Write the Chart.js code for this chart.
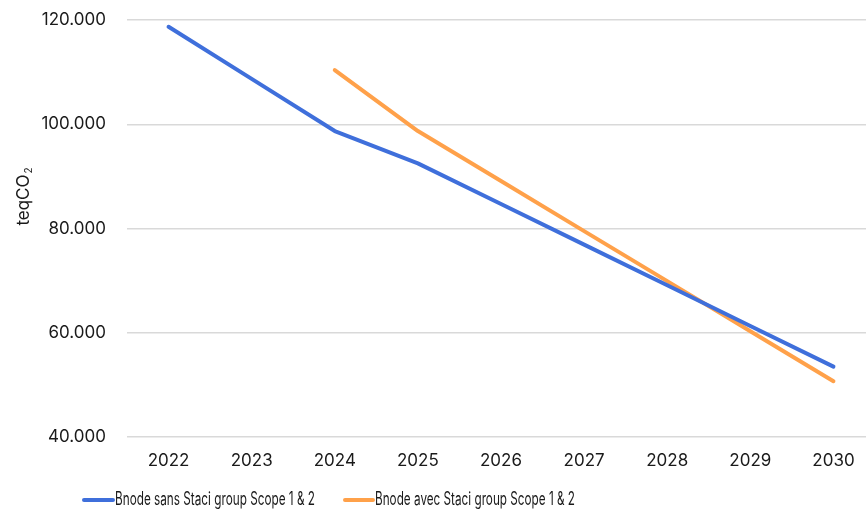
<!DOCTYPE html>
<html>
<head>
<meta charset="utf-8">
<script src="https://cdn.jsdelivr.net/npm/chart.js@4"></script>
<style>
  html, body { margin: 0; padding: 0; background: #fff; overflow: hidden; }
  #wrap { width: 876px; height: 509px; }
</style>
</head>
<body>
<div id="wrap"><canvas id="chart" width="876" height="509"></canvas></div>
<script>
// Emission trajectory, tonnes CO2 equivalent per year
const years = ['2022', '2023', '2024', '2025', '2026', '2027', '2028', '2029', '2030'];
const sansStaci = [118700, 108700, 98700, 92500, 84700, 76900, 69100, 61300, 53500];
const avecStaci = [null, null, 110400, 98700, 89100, 79500, 69900, 60300, 50700];
const seriesNames = ['Bnode sans Staci group Scope 1 & 2', 'Bnode avec Staci group Scope 1 & 2'];
const yTicks = [40000, 60000, 80000, 100000, 120000];
const yTitle = 'teqCO';
const yTitleSub = '2';

const FONT = 'Inter, "DejaVu Sans", sans-serif';
const TEXT = '#1a1a1a';
const BLUE = '#3f6fdb';
const ORANGE = '#ffa14a';

function fmt(v) {
  return String(v).replace(/\B(?=(\d{3})+(?!\d))/g, '.');
}

// Vertical axis title with a small subscript
const axisTitle = {
  id: 'axisTitle',
  afterDraw(chart) {
    const ctx = chart.ctx;
    ctx.save();
    ctx.translate(29, 197);
    ctx.rotate(-Math.PI / 2);
    ctx.fillStyle = TEXT;
    ctx.textBaseline = 'alphabetic';
    ctx.font = '17px ' + FONT;
    const w = ctx.measureText(yTitle).width;
    ctx.font = '10px ' + FONT;
    const ws = ctx.measureText(yTitleSub).width;
    const x0 = -(w + ws) / 2;
    ctx.font = '17px ' + FONT;
    ctx.fillText(yTitle, x0, 0);
    ctx.font = '10px ' + FONT;
    ctx.fillText(yTitleSub, x0 + w + 1, 3);
    ctx.restore();
  }
};

// Legend drawn below the plot with condensed labels
const bottomLegend = {
  id: 'bottomLegend',
  afterDraw(chart) {
    const ctx = chart.ctx;
    const items = [
      { x: 84, textX: 115, color: BLUE, label: chart.data.datasets[0].label },
      { x: 345, textX: 375, color: ORANGE, label: chart.data.datasets[1].label }
    ];
    const y = 500;
    ctx.save();
    ctx.font = '18px ' + FONT;
    ctx.fillStyle = TEXT;
    ctx.textBaseline = 'middle';
    items.forEach(it => {
      ctx.strokeStyle = it.color;
      ctx.lineWidth = 4;
      ctx.lineCap = 'round';
      ctx.beginPath();
      ctx.moveTo(it.x, y);
      ctx.lineTo(it.textX - 2, y);
      ctx.stroke();
      ctx.fillText(it.label, it.textX, y, 200);
    });
    ctx.restore();
  }
};

new Chart(document.getElementById('chart'), {
  type: 'line',
  data: {
    labels: years,
    datasets: [
      { label: seriesNames[0], data: sansStaci, borderColor: BLUE, backgroundColor: BLUE,
        borderWidth: 4, pointRadius: 0, tension: 0, borderCapStyle: 'round', borderJoinStyle: 'round' },
      { label: seriesNames[1], data: avecStaci, borderColor: ORANGE, backgroundColor: ORANGE,
        borderWidth: 4, pointRadius: 0, tension: 0, borderCapStyle: 'round', borderJoinStyle: 'round' }
    ]
  },
  options: {
    responsive: false,
    animation: false,
    layout: { padding: { top: 20, right: 1, bottom: 0, left: 10 } },
    plugins: { legend: { display: false }, tooltip: { enabled: false } },
    scales: {
      x: {
        offset: true,
        grid: { display: false, drawTicks: false },
        border: { display: false },
        ticks: { color: TEXT, font: { family: FONT, size: 17 }, padding: 14, maxRotation: 0 },
        afterFit(scale) { scale.height = 72; }
      },
      y: {
        min: 40000,
        max: 120000,
        afterBuildTicks(scale) { scale.ticks = yTicks.map(v => ({ value: v })); },
        grid: { color: '#d9d9d9', lineWidth: 1.5, drawTicks: false },
        border: { display: false },
        ticks: { color: TEXT, font: { family: FONT, size: 17 }, padding: 21, callback: v => fmt(v) },
        title: { display: false },
        afterFit(scale) {
          scale.width = 117;
          scale.paddingTop = 0;
          scale.paddingBottom = 0;
        }
      }
    }
  },
  plugins: [axisTitle, bottomLegend]
});
</script>
</body>
</html>
